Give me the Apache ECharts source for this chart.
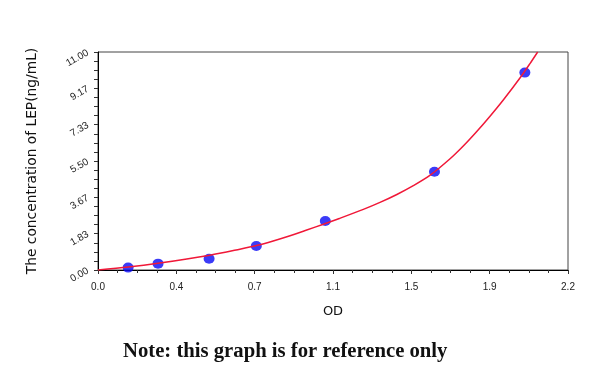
<!DOCTYPE html>
<html>
<head>
<meta charset="utf-8">
<script src="https://cdn.jsdelivr.net/npm/echarts@6/dist/echarts.min.js"></script>
<style>html,body{margin:0;padding:0;background:#fff}#c{width:600px;height:377px}</style>
</head>
<body>
<div id="c"></div>
<script>
// Measured standard points (OD, concentration)
var pointOD   = [0.141, 0.281, 0.520, 0.741, 1.064, 1.575, 1.998];
var pointConc = [0.12, 0.32, 0.57, 1.21, 2.47, 4.96, 9.96];
// Fitted curve
var curveOD   = [0.000, 0.141, 0.281, 0.524, 0.664, 0.742, 0.820, 0.899, 0.977, 1.055, 1.133, 1.242, 1.320, 1.399, 1.476, 1.555, 1.648, 1.711, 1.774, 1.836, 1.898, 1.976, 2.023, 2.058];
var curveConc = [0.000, 0.146, 0.338, 0.747, 1.050, 1.236, 1.468, 1.731, 2.018, 2.311, 2.614, 3.058, 3.411, 3.810, 4.254, 4.784, 5.611, 6.267, 6.999, 7.771, 8.588, 9.698, 10.430, 11.000];
// Tick labels as printed
var xTickLabels = ['0.0', '0.4', '0.7', '1.1', '1.5', '1.9', '2.2'];
var yTickLabels = ['0.00', '1.83', '3.67', '5.50', '7.33', '9.17', '11.00'];

var xMax = 2.2, yMax = 11;
var xInt = xMax / 6, yInt = yMax / 6;

var chart = echarts.init(document.getElementById('c'), null, {renderer: 'canvas'});
chart.setOption({
  backgroundColor: '#ffffff',
  animation: false,
  grid: {left: 98, right: 32, top: 52, bottom: 107, show: true, borderColor: '#444', borderWidth: 1, backgroundColor: 'transparent'},
  xAxis: {
    type: 'value', min: 0, max: xMax, interval: xInt,
    name: 'OD', nameLocation: 'middle', nameGap: 35,
    nameTextStyle: {fontFamily: 'DejaVu Sans', fontSize: 13, color: '#111'},
    axisLine: {show: true, lineStyle: {color: '#000', width: 1}},
    axisTick: {show: true, inside: false, length: 4, lineStyle: {color: '#333'}},
    minorTick: {show: true, splitNumber: 4, length: 3, lineStyle: {color: '#333'}},
    splitLine: {show: false},
    axisLabel: {
      margin: 12, fontFamily: 'Liberation Sans', fontSize: 10, color: '#222',
      formatter: function (v) { return xTickLabels[Math.round(v / xInt)] || ''; }
    }
  },
  yAxis: {
    type: 'value', min: 0, max: yMax, interval: yInt,
    name: 'The concentration of LEP(ng/mL)', nameLocation: 'middle', nameGap: 59,
    nameTextStyle: {fontFamily: 'DejaVu Sans', fontSize: 13.8, color: '#111'},
    axisLine: {show: true, lineStyle: {color: '#000', width: 1}},
    axisTick: {show: true, inside: false, length: 4, lineStyle: {color: '#333'}},
    minorTick: {show: true, splitNumber: 4, length: 4, lineStyle: {color: '#333'}},
    splitLine: {show: false},
    axisLabel: {
      margin: 10, rotate: 30, fontFamily: 'Liberation Sans', fontSize: 10, color: '#222',
      formatter: function (v) { return yTickLabels[Math.round(v / yInt)] || ''; }
    }
  },
  series: [
    {
      type: 'scatter', z: 2,
      data: pointOD.map(function (x, i) { return [x, pointConc[i]]; }),
      symbol: 'circle', symbolSize: [11, 10],
      itemStyle: {color: '#0a0af5'}
    },
    {
      type: 'line', z: 3, smooth: 0.3, showSymbol: false,
      data: curveOD.map(function (x, i) { return [x, curveConc[i]]; }),
      lineStyle: {color: '#f01838', width: 1.5}
    }
  ],
  graphic: [{
    type: 'text', left: 123, top: 341,
    style: {text: 'Note: this graph is for reference only', font: 'bold 20.7px "Liberation Serif"', fill: '#111'}
  }]
});
</script>
</body>
</html>
